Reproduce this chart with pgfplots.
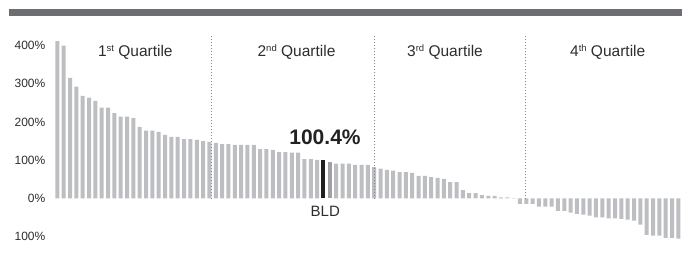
\documentclass[border=0pt]{standalone}
\usepackage{pgfplots}
\pgfplotsset{compat=1.18}
\usepackage{fontspec}
\setmainfont{Liberation Sans}
\definecolor{bargray}{RGB}{189,190,193}
\definecolor{bandgray}{RGB}{109,110,113}
\definecolor{txt}{RGB}{45,45,45}
\definecolor{dotgray}{RGB}{135,135,138}
\newcommand\sups[1]{\raisebox{5bp}{\fontsize{9.5bp}{10bp}\selectfont #1}}
\begin{document}
\begin{tikzpicture}
\useasboundingbox (0,0) rectangle (687bp,273bp);
\fill[bandgray] (9bp,256.5bp) rectangle (682bp,264bp);
\begin{axis}[at={(51bp,24.7bp)}, anchor=south west, scale only axis,
  width=633.7bp, height=210.7bp, xmin=0, xmax=100, ymin=-130, ymax=420,
  axis line style={draw=none}, tick style={draw=none}, major tick length=0pt,
  xtick=\empty, ytick={-100,0,100,200,300,400},
  yticklabels={100\%,0\%,100\%,200\%,300\%,400\%},
  yticklabel style={font=\fontsize{12bp}{14bp}\selectfont, text=txt, inner sep=0pt, xshift=-5.5bp},
  clip=false]
\addplot[ybar, bar width=4bp, bar shift=0pt, fill=bargray, draw=none] table {
x y
1 411
2 399
3 315
4 292
5 268
6 263
7 255
8 237
9 237
10 223
11 214
12 214
13 210
14 187
15 177
16 177
17 174
18 166
19 161
20 161
21 155
22 155
23 153
24 150
25 148
26 145
27 142
28 142
29 140
30 140
31 140
32 140
33 129
34 129
35 127
36 121
37 121
38 120
39 120
40 103
41 103
42 101
45 91
46 91
47 91
48 88
49 88
50 88
51 82
52 78
53 75
54 73
55 69
56 69
57 67
58 59
59 59
60 56
61 54
62 51
63 43
64 43
65 22
66 14
67 14
68 9
69 7
70 7
71 3
72 3
73 1
74 -14
75 -14
76 -14
77 -21
78 -21
79 -21
80 -32
81 -32
82 -37
83 -40
84 -42
85 -45
86 -49
87 -49
88 -52
89 -52
90 -53
91 -55
92 -58
93 -68
94 -95
95 -97
96 -97
97 -103
98 -103
99 -105
};
\addplot[ybar, bar width=4bp, bar shift=0pt, fill=black!88, draw=none] coordinates {(43,100.4)};
\addplot[ybar, bar width=4bp, bar shift=0pt, fill={rgb,255:red,160;green,161;blue,164}, draw=none] coordinates {(44,95)};
\draw[dotgray, line width=1bp, dash pattern=on 1.5bp off 1.5bp] (axis cs:25.33,-2) -- (axis cs:25.33,427);
\draw[dotgray, line width=1bp, dash pattern=on 1.5bp off 1.5bp] (axis cs:51.1,-2) -- (axis cs:51.1,427);
\draw[dotgray, line width=1bp, dash pattern=on 1.5bp off 1.5bp] (axis cs:74.8,-2) -- (axis cs:74.8,427);
\end{axis}
\node[anchor=base, font=\fontsize{15.5bp}{18bp}\selectfont, text=txt, inner sep=0pt] at (135.3bp,216.5bp) {1\sups{st} Quartile};
\node[anchor=base, font=\fontsize{15.5bp}{18bp}\selectfont, text=txt, inner sep=0pt] at (296.5bp,216.5bp) {2\sups{nd} Quartile};
\node[anchor=base, font=\fontsize{15.5bp}{18bp}\selectfont, text=txt, inner sep=0pt] at (445bp,216.5bp) {3\sups{rd} Quartile};
\node[anchor=base, font=\fontsize{15.5bp}{18bp}\selectfont, text=txt, inner sep=0pt] at (607.7bp,216.5bp) {4\sups{th} Quartile};
\node[anchor=base, font=\bfseries\fontsize{21bp}{24bp}\selectfont, text={rgb,255:red,34;green,34;blue,34}, inner sep=0pt] at (325bp,128bp) {100.4\%};
\node[anchor=base, font=\fontsize{15bp}{18bp}\selectfont, text=txt, inner sep=0pt] at (325.3bp,56.3bp) {BLD};
\end{tikzpicture}
\end{document}
